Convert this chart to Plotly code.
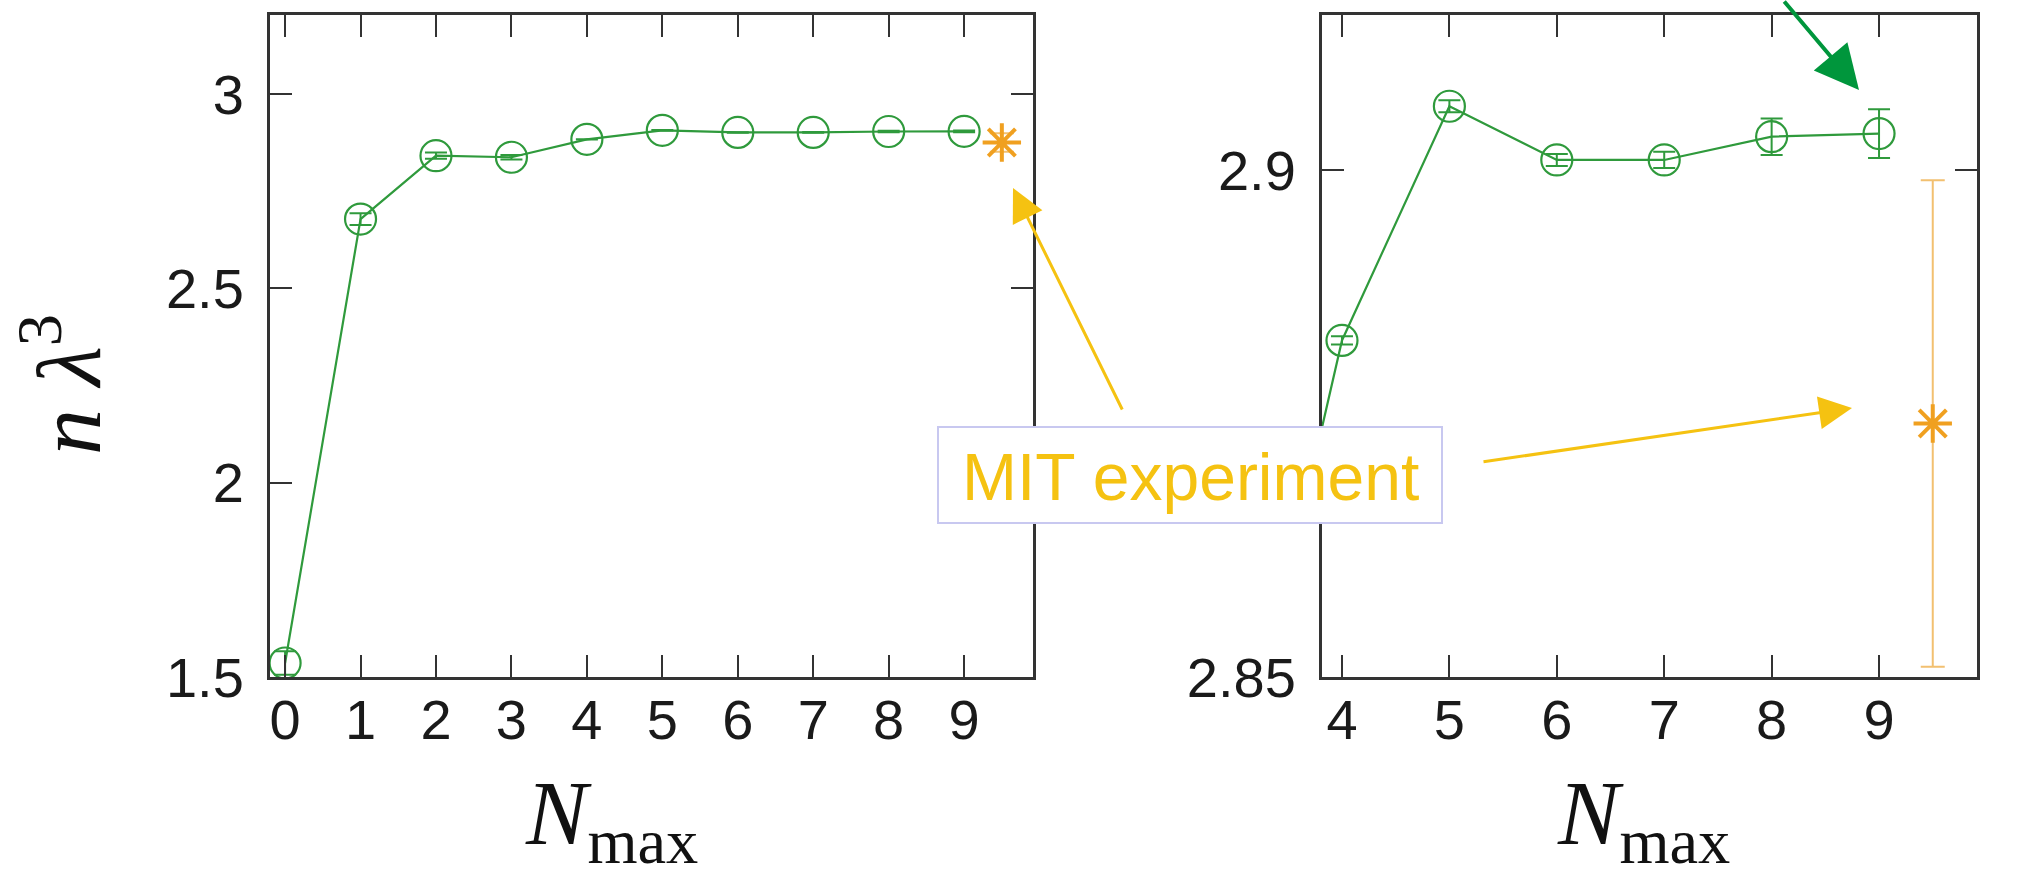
import plotly.graph_objects as go

# ---------------- data ----------------
N_max = [0, 1, 2, 3, 4, 5, 6, 7, 8, 9]
n_lambda3 = [1.536, 2.678, 2.841, 2.837, 2.8832, 2.9063, 2.9010, 2.9010, 2.9033, 2.9036]
n_lambda3_err = [0.03, 0.015, 0.008, 0.006, 0.0004, 0.0006, 0.0006, 0.0008, 0.0018, 0.0024]

mit_x = [9.5]
mit_y = [2.875]
mit_err = [0.024]

left_xticks = [0, 1, 2, 3, 4, 5, 6, 7, 8, 9]
right_xticks = [4, 5, 6, 7, 8, 9]
left_yticks = [1.5, 2, 2.5, 3]
right_yticks = [2.85, 2.9]

label_text = "MIT experiment"
x_title = "<i>N</i><sub>max</sub>"
y_title = "<i>n</i> <i>λ</i><sup>3</sup>"

# ---------------- style ----------------
W, H = 2028, 885
GREEN = "#2f9a3c"
ORANGE = "#f0a020"
ORANGE_ERR = "#f2c070"
GOLD = "#f5c211"
AXIS = "#333333"


def px(x):
    return x / W


def py(y):
    return 1 - y / H


fig = go.Figure()

for xa, ya in (("x", "y"), ("x2", "y2")):
    fig.add_trace(go.Scatter(
        x=N_max, y=n_lambda3, xaxis=xa, yaxis=ya, mode="lines+markers",
        line=dict(color=GREEN, width=2.2),
        marker=dict(symbol="circle-open", size=31, color=GREEN, line=dict(width=2.2, color=GREEN)),
        error_y=dict(type="data", array=n_lambda3_err, visible=True, color=GREEN, thickness=2, width=11),
        showlegend=False,
    ))
    fig.add_trace(go.Scatter(
        x=mit_x, y=mit_y, xaxis=xa, yaxis=ya, mode="markers",
        marker=dict(symbol="asterisk-open", size=32, color=ORANGE, line=dict(width=4, color=ORANGE)),
        error_y=dict(type="data", array=mit_err, visible=True, color=ORANGE_ERR, thickness=2, width=12),
        showlegend=False,
    ))

tickfont = dict(family="Liberation Sans, Arial, sans-serif", size=56, color="#1a1a1a")
common = dict(
    ticks="inside", ticklen=22, tickwidth=2, tickcolor=AXIS,
    showline=True, linecolor=AXIS, linewidth=3, mirror="ticks",
    showgrid=False, zeroline=False, tickfont=tickfont,
    automargin=False,
)
xcommon = dict(common, ticklabelstandoff=-8)
ycommon = dict(common, ticklabelstandoff=12)

fig.update_layout(
    width=W, height=H,
    margin=dict(l=0, r=0, t=0, b=0),
    paper_bgcolor="white", plot_bgcolor="white",
    xaxis=dict(domain=[px(270), px(1033)], range=[-0.2, 9.913], anchor="y",
               tickmode="array", tickvals=left_xticks, **xcommon),
    yaxis=dict(domain=[py(677), py(15)], range=[1.5, 3.203], anchor="x",
               tickmode="array", tickvals=left_yticks, **ycommon),
    xaxis2=dict(domain=[px(1322), px(1977)], range=[3.814, 9.912], anchor="y2",
                tickmode="array", tickvals=right_xticks, **xcommon),
    yaxis2=dict(domain=[py(677), py(15)], range=[2.85, 2.9153], anchor="x2",
                tickmode="array", tickvals=right_yticks, **ycommon),
)

# text box
fig.add_shape(type="rect", xref="paper", yref="paper",
              x0=px(938), x1=px(1442), y0=py(523), y1=py(427),
              fillcolor="white", line=dict(color="#c8c8f0", width=2), layer="above")

title_font = dict(family="Liberation Serif, Times New Roman, serif", size=92, color="#111")
annotations = [
    dict(text=label_text, xref="paper", yref="paper", x=px(1190), y=py(477),
         xanchor="center", yanchor="middle", showarrow=False,
         font=dict(family="Liberation Sans, Arial, sans-serif", size=66, color=GOLD)),
    # axis titles
    dict(text=x_title, xref="paper", yref="paper", x=px(611), y=py(819),
         xanchor="center", yanchor="middle", showarrow=False, font=title_font),
    dict(text=x_title, xref="paper", yref="paper", x=px(1643), y=py(819),
         xanchor="center", yanchor="middle", showarrow=False, font=title_font),
    dict(text=y_title, xref="paper", yref="paper", x=px(62), y=py(385),
         xanchor="center", yanchor="middle", showarrow=False, textangle=-90, font=title_font),
    # yellow arrows
    dict(text="", xref="paper", yref="paper", x=px(1013), y=py(188),
         ax=110, ay=223, axref="pixel", ayref="pixel", showarrow=True,
         arrowhead=2, arrowsize=2.2, arrowwidth=3, arrowcolor=GOLD),
    dict(text="", xref="paper", yref="paper", x=px(1852), y=py(408),
         ax=-370, ay=54, axref="pixel", ayref="pixel", showarrow=True,
         arrowhead=2, arrowsize=2.2, arrowwidth=3, arrowcolor=GOLD),
    # green arrow
    dict(text="", xref="paper", yref="paper", x=px(1859), y=py(90),
         ax=-76, ay=-100, axref="pixel", ayref="pixel", showarrow=True,
         arrowhead=2, arrowsize=2.2, arrowwidth=4, arrowcolor="#00963c"),
]
fig.update_layout(annotations=annotations)

fig.write_html("out.html")
